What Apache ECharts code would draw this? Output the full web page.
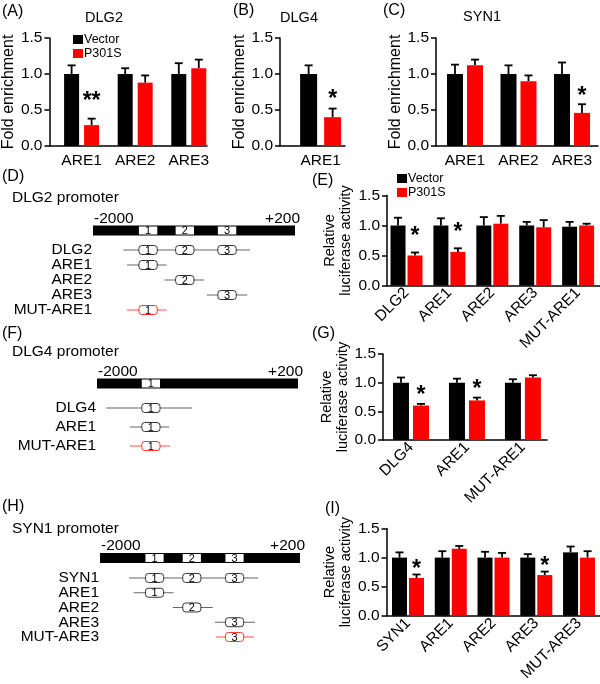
<!DOCTYPE html>
<html><head><meta charset="utf-8">
<script src="https://cdn.jsdelivr.net/npm/echarts@6/dist/echarts.min.js"></script>
<style>html,body{margin:0;padding:0;background:#fff}#c{width:600px;height:684px}</style>
</head><body><div id="c"></div><script>
// ---------- DATA ----------
const seriesNames = ['Vector', 'P301S'];
// (A) DLG2 ChIP
const catA = ['ARE1', 'ARE2', 'ARE3'];
const vecA = [1.00, 1.00, 1.00];
const vecErrA = [0.12, 0.08, 0.15];
const p301A = [0.29, 0.88, 1.08];
const p301ErrA = [0.09, 0.10, 0.12];
const sigA = ['**', '', ''];
// (B) DLG4 ChIP
const catB = ['ARE1'];
const vecB = [1.00];
const vecErrB = [0.12];
const p301B = [0.40];
const p301ErrB = [0.12];
const sigB = ['*'];
// (C) SYN1 ChIP
const catC = ['ARE1', 'ARE2', 'ARE3'];
const vecC = [1.00, 1.00, 1.00];
const vecErrC = [0.13, 0.12, 0.16];
const p301C = [1.12, 0.90, 0.46];
const p301ErrC = [0.08, 0.08, 0.12];
const sigC = ['', '', '*'];
// (E) DLG2 luciferase
const catE = ['DLG2', 'ARE1', 'ARE2', 'ARE3', 'MUT-ARE1'];
const vecE = [1.00, 1.00, 1.00, 1.00, 0.98];
const vecErrE = [0.13, 0.12, 0.14, 0.06, 0.08];
const p301E = [0.50, 0.56, 1.03, 0.97, 1.00];
const p301ErrE = [0.05, 0.06, 0.13, 0.12, 0.03];
const sigE = ['*', '*', '', '', ''];
// (G) DLG4 luciferase
const catG = ['DLG4', 'ARE1', 'MUT-ARE1'];
const vecG = [1.00, 1.00, 1.00];
const vecErrG = [0.09, 0.07, 0.06];
const p301G = [0.60, 0.69, 1.09];
const p301ErrG = [0.03, 0.05, 0.04];
const sigG = ['*', '*', ''];
// (I) SYN1 luciferase
const catI = ['SYN1', 'ARE1', 'ARE2', 'ARE3', 'MUT-ARE3'];
const vecI = [1.00, 1.00, 1.00, 1.00, 1.09];
const vecErrI = [0.09, 0.11, 0.10, 0.06, 0.10];
const p301I = [0.65, 1.15, 1.00, 0.70, 1.00];
const p301ErrI = [0.06, 0.05, 0.08, 0.06, 0.11];
const sigI = ['*', '', '', '*', ''];
const yTicks = [0, 0.5, 1.0, 1.5];

// Promoter diagrams (bp relative to TSS)
const promRange = [-2000, 200];
const siteLen = 200;
const sitesD = [-1400, -1000, -540];
const rowsD = ['DLG2', 'ARE1', 'ARE2', 'ARE3', 'MUT-ARE1'];
const rowStartD = [-1670, -1630, -1220, -760, -1630];
const rowEndD = [-290, -1200, -790, -320, -1200];
const rowSitesD = [[0, 1, 2], [0], [1], [2], [0]];
const rowMutD = [false, false, false, false, true];

const sitesF = [-1410];
const rowsF = ['DLG4', 'ARE1', 'MUT-ARE1'];
const rowStartF = [-1900, -1640, -1640];
const rowEndF = [-960, -1210, -1200];
const rowSitesF = [[0], [0], [0]];
const rowMutF = [false, false, true];

const sitesH = [-1400, -990, -520];
const rowsH = ['SYN1', 'ARE1', 'ARE2', 'ARE3', 'MUT-ARE3'];
const rowStartH = [-1680, -1630, -1200, -735, -725];
const rowEndH = [-260, -1190, -760, -295, -305];
const rowSitesH = [[0, 1, 2], [0], [1], [2], [2]];
const rowMutH = [false, false, false, false, true];

// ---------- LAYOUT / STYLE ----------
const FONT = '"Liberation Sans", Arial, Helvetica, sans-serif';
const BLACK = '#000000', RED = '#ff0000';

const barPanels = [
  {cats: catA, vec: vecA, vecErr: vecErrA, mut: p301A, mutErr: p301ErrA, sig: sigA,
   L: 48, R: 207, T: 38, B: 146, min: -0.6, max: 2.34, bw: 15, off: 10, rot: 0,
   name: 'Fold enrichment', gap: 31, sigOff: 23},
  {cats: catB, vec: vecB, vecErr: vecErrB, mut: p301B, mutErr: p301ErrB, sig: sigB,
   L: 280, R: 345, T: 38, B: 146, min: -1, max: 0.6, bw: 17, off: 12, rot: 0,
   name: 'Fold enrichment', gap: 24, sigOff: 15},
  {cats: catC, vec: vecC, vecErr: vecErrC, mut: p301C, mutErr: p301ErrC, sig: sigC,
   L: 436, R: 598, T: 38, B: 146, min: -0.542, max: 2.486, bw: 16, off: 10, rot: 0,
   name: 'Fold enrichment', gap: 29, sigOff: 14},
  {cats: catE, vec: vecE, vecErr: vecErrE, mut: p301E, mutErr: p301ErrE, sig: sigE,
   L: 387, R: 600, T: 195.5, B: 285.5, min: -0.455, max: 4.51, bw: 15, off: 8.5, rot: 45,
   name: 'Relative\nluciferase activity', gap: 33, sigOff: 22},
  {cats: catG, vec: vecG, vecErr: vecErrG, mut: p301G, mutErr: p301ErrG, sig: sigG,
   L: 383, R: 547, T: 354, B: 440, min: -0.5, max: 2.43, bw: 16, off: 10, rot: 45,
   name: 'Relative\nluciferase activity', gap: 30, sigOff: 14},
  {cats: catI, vec: vecI, vecErr: vecErrI, mut: p301I, mutErr: p301ErrI, sig: sigI,
   L: 386.5, R: 600, T: 528.5, B: 617.5, min: -0.503, max: 4.49, bw: 15, off: 8.5, rot: 45,
   name: 'Relative\nluciferase activity', gap: 33, sigOff: 11}
];

const diagrams = [
  {rows: rowsD, start: rowStartD, end: rowEndD, rowSites: rowSitesD, mut: rowMutD, sites: sitesD,
   L: 93, W: 202, T: 242.5, H: 75, barAbove: 19.5},
  {rows: rowsF, start: rowStartF, end: rowEndF, rowSites: rowSitesF, mut: rowMutF, sites: sitesF,
   L: 97, W: 201, T: 398.5, H: 57, barAbove: 24.5},
  {rows: rowsH, start: rowStartH, end: rowEndH, rowSites: rowSitesH, mut: rowMutH, sites: sitesH,
   L: 100, W: 200, T: 570.6, H: 73.75, barAbove: 20}
];

const grids = [], xAxes = [], yAxes = [], series = [];

function barSeries(k, p, vals, errs, color, dir, sigs) {
  return {
    type: 'custom', name: dir < 0 ? seriesNames[0] : seriesNames[1],
    xAxisIndex: k, yAxisIndex: k, clip: false, z: 3,
    itemStyle: {color: color},
    encode: {x: 0, y: 1},
    data: vals.map((v, i) => [i, v, errs[i]]),
    renderItem: function (params, api) {
      const i = api.value(0), v = api.value(1), e = api.value(2);
      const b = api.coord([i, 0]), t = api.coord([i, v]), et = api.coord([i, v + e]);
      const cx = b[0] + dir * p.off;
      const ch = [
        {type: 'line', shape: {x1: cx, y1: t[1], x2: cx, y2: et[1]}, style: {stroke: '#000', lineWidth: 1.8}},
        {type: 'line', shape: {x1: cx - 4, y1: et[1], x2: cx + 4, y2: et[1]}, style: {stroke: '#000', lineWidth: 1.8}},
        {type: 'rect', shape: {x: cx - p.bw / 2, y: t[1], width: p.bw, height: b[1] - t[1]}, style: {fill: color}}
      ];
      if (sigs && sigs[i]) {
        ch.push({type: 'text', style: {text: sigs[i], x: cx, y: et[1] - p.sigOff + 6,
          align: 'center', verticalAlign: 'middle', font: 'bold 23px ' + FONT, fill: '#000'}});
      }
      return {type: 'group', children: ch};
    }
  };
}

barPanels.forEach(function (p, k) {
  grids.push({left: p.L, top: p.T, width: p.R - p.L, height: p.B - p.T, containLabel: false});
  xAxes.push({
    gridIndex: k, type: 'value', min: p.min, max: p.max,
    axisLine: {show: true, onZero: false, lineStyle: {color: '#000', width: 1.5}},
    axisTick: {show: false}, splitLine: {show: false},
    axisLabel: {
      customValues: p.cats.map((c, i) => i),
      formatter: function (v) { return p.cats[Math.round(v)] || ''; },
      fontSize: 15.5, color: '#000', fontFamily: FONT, rotate: p.rot, margin: p.rot ? 5 : 7
    }
  });
  yAxes.push({
    gridIndex: k, type: 'value', min: yTicks[0], max: yTicks[yTicks.length - 1], interval: yTicks[1] - yTicks[0],
    axisLine: {show: true, onZero: false, lineStyle: {color: '#000', width: 1.5}},
    axisTick: {show: true, length: 5, lineStyle: {color: '#000', width: 1.5}},
    splitLine: {show: false},
    axisLabel: {formatter: v => v.toFixed(1), fontSize: 15.5, color: '#000', fontFamily: FONT, margin: 7},
    name: p.name, nameLocation: 'middle', nameGap: p.gap,
    nameTextStyle: {fontSize: p.rot ? 14.5 : 16, color: '#000', fontFamily: FONT, lineHeight: 16}
  });
  series.push(barSeries(k, p, p.vec, p.vecErr, BLACK, -1, null));
  series.push(barSeries(k, p, p.mut, p.mutErr, RED, 1, p.sig));
});

diagrams.forEach(function (d, j) {
  const k = barPanels.length + j;
  grids.push({left: d.L, top: d.T, width: d.W, height: d.H});
  xAxes.push({gridIndex: k, type: 'value', min: promRange[0], max: promRange[1], show: false});
  yAxes.push({
    gridIndex: k, type: 'category', data: d.rows, inverse: true,
    axisLine: {show: false}, axisTick: {show: false}, splitLine: {show: false},
    axisLabel: {interval: 0, fontSize: 15.5, color: '#000', fontFamily: FONT, margin: 1}
  });
  // promoter bar
  series.push({
    type: 'custom', xAxisIndex: k, yAxisIndex: k, clip: false, silent: true,
    encode: {x: [0, 1], y: 2},
    data: [[promRange[0], promRange[1], 0]],
    renderItem: function (params, api) {
      const s = api.value(0), e = api.value(1);
      const y = api.coord([s, 0])[1] - d.barAbove;
      const x1 = api.coord([s, 0])[0], x2 = api.coord([e, 0])[0];
      const ch = [
        {type: 'rect', shape: {x: x1, y: y - 5, width: x2 - x1, height: 10}, style: {fill: '#000'}},
        {type: 'text', style: {text: String(s), x: x1 + 1, y: y - 4, align: 'left', verticalAlign: 'bottom',
          font: '15.5px ' + FONT, fill: '#000'}},
        {type: 'text', style: {text: '+' + e, x: x2 + 5, y: y - 4, align: 'right', verticalAlign: 'bottom',
          font: '15.5px ' + FONT, fill: '#000'}}
      ];
      d.sites.forEach(function (st, si) {
        const a = api.coord([st - siteLen / 2, 0])[0], b = api.coord([st + siteLen / 2, 0])[0];
        ch.push({type: 'rect', shape: {x: a, y: y - 4, width: b - a, height: 8}, style: {fill: '#fff'}});
        ch.push({type: 'text', style: {text: String(si + 1), x: (a + b) / 2, y: y + 0.5, align: 'center',
          verticalAlign: 'middle', font: '11px ' + FONT, fill: '#000'}});
      });
      return {type: 'group', children: ch};
    }
  });
  // constructs
  series.push({
    type: 'custom', xAxisIndex: k, yAxisIndex: k, clip: false, silent: true,
    encode: {x: [0, 1], y: 2},
    data: d.rows.map((n, i) => [d.start[i], d.end[i], i]),
    renderItem: function (params, api) {
      const r = api.value(2);
      const y = api.coord([promRange[0], r])[1];
      const x1 = api.coord([api.value(0), r])[0], x2 = api.coord([api.value(1), r])[0];
      const mut = d.mut[r];
      const lc = mut ? '#ff5050' : '#666';
      const bc = mut ? '#ff3030' : '#333';
      const ch = [{type: 'line', shape: {x1: x1, y1: y, x2: x2, y2: y}, style: {stroke: lc, lineWidth: 1.2}}];
      d.rowSites[r].forEach(function (si) {
        const st = d.sites[si];
        const a = api.coord([st - siteLen / 2, r])[0], b = api.coord([st + siteLen / 2, r])[0];
        ch.push({type: 'rect', shape: {x: a, y: y - 4.5, width: b - a, height: 9, r: 3},
          style: {fill: '#fff', stroke: bc, lineWidth: 1}});
        ch.push({type: 'text', style: {text: String(si + 1), x: (a + b) / 2, y: y + 0.5, align: 'center',
          verticalAlign: 'middle', font: '11px ' + FONT, fill: '#000'}});
      });
      return {type: 'group', children: ch};
    }
  });
});

const labels = [
  ['(A)', 2, 12, 16, 'left'], ['DLG2', 104, 18, 14.5, 'center'],
  ['(B)', 233, 11, 16, 'left'], ['DLG4', 299, 18, 14.5, 'center'],
  ['(C)', 383, 11, 16, 'left'], ['SYN1', 482, 17, 14.5, 'center'],
  ['(D)', 2, 177, 16, 'left'], ['DLG2 promoter', 12, 198, 15.5, 'left'],
  ['(E)', 312, 181, 16, 'left'],
  ['(F)', 2, 334, 16, 'left'], ['DLG4 promoter', 12, 352, 15.5, 'left'],
  ['(G)', 312, 334, 16, 'left'],
  ['(H)', 2, 507, 16, 'left'], ['SYN1 promoter', 12, 529, 15.5, 'left'],
  ['(I)', 325, 509, 16, 'left']
];

const legendBase = {
  orient: 'vertical', data: seriesNames, itemWidth: 10, itemHeight: 9, itemGap: 1,
  icon: 'rect', selectedMode: false, padding: 0,
  textStyle: {fontSize: 12.5, fontFamily: FONT, color: '#000', lineHeight: 11, padding: [0, 0, 0, -4]}
};

const option = {
  animation: false,
  backgroundColor: '#fff',
  textStyle: {fontFamily: FONT},
  grid: grids, xAxis: xAxes, yAxis: yAxes, series: series,
  legend: [
    Object.assign({}, legendBase, {left: 73, top: 33}),
    Object.assign({}, legendBase, {left: 397, top: 172})
  ],
  graphic: labels.map(l => ({type: 'text', x: l[1], y: l[2], silent: true,
    style: {text: l[0], fontSize: l[3], fontFamily: FONT, fill: '#000', align: l[4], verticalAlign: 'middle'}}))
};

const chart = echarts.init(document.getElementById('c'), null, {renderer: 'canvas', width: 600, height: 684});
chart.setOption(option);
</script></body></html>
